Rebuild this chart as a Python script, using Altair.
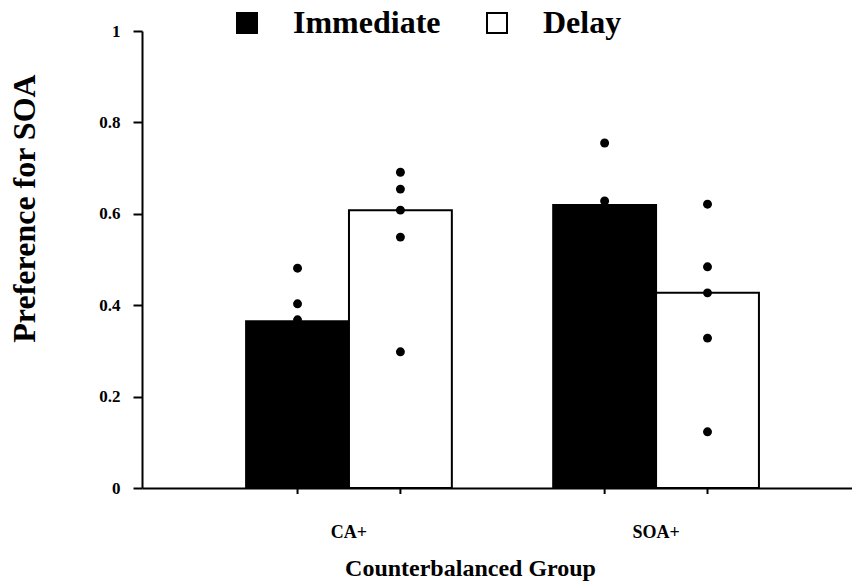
import altair as alt
import pandas as pd

groups = ["CA+", "SOA+"]
conditions = ["Immediate", "Delay"]

# bar heights (group-major order: CA+ Immediate, CA+ Delay, SOA+ Immediate, SOA+ Delay)
bar_group = ["CA+", "CA+", "SOA+", "SOA+"]
bar_cond = ["Immediate", "Delay", "Immediate", "Delay"]
bar_value = [0.365, 0.608, 0.619, 0.427]

# individual subject points
pt_group = ["CA+"] * 3 + ["CA+"] * 5 + ["SOA+"] * 2 + ["SOA+"] * 5
pt_cond = ["Immediate"] * 3 + ["Delay"] * 5 + ["Immediate"] * 2 + ["Delay"] * 5
pt_value = [0.481, 0.403, 0.368,
            0.691, 0.654, 0.608, 0.549, 0.298,
            0.755, 0.628,
            0.621, 0.484, 0.427, 0.328, 0.123]

y_ticks = [0, 0.2, 0.4, 0.6, 0.8, 1.0]

bars_df = pd.DataFrame({"group": bar_group, "condition": bar_cond, "value": bar_value})
pts_df = pd.DataFrame({"group": pt_group, "condition": pt_cond, "value": pt_value})

FONT = "Liberation Serif"

x_enc = alt.X(
    "group:N",
    sort=groups,
    scale=alt.Scale(paddingInner=0.33, paddingOuter=0.321, align=0.528),
    axis=alt.Axis(
        title="Counterbalanced Group",
        labelAngle=0,
        ticks=False,
        labelPadding=35,
        labelFontSize=18,
        labelFont=FONT,
        labelFontWeight="bold",
        labelColor="black",
        titleFont=FONT,
        titleFontSize=24,
        titleFontWeight="bold",
        titleColor="black",
        titlePadding=15,
        titleX=328,
        titleAlign="center",
        domainColor="black",
        domainWidth=2,
        grid=False,
    ),
)
xoff_enc = alt.XOffset("condition:N", sort=conditions,
                       scale=alt.Scale(paddingInner=0, paddingOuter=0))
y_scale = alt.Scale(domain=[0, 1], nice=False)

bars = alt.Chart(bars_df).mark_bar(stroke="black", strokeWidth=2).encode(
    x=x_enc,
    xOffset=xoff_enc,
    y=alt.Y(
        "value:Q",
        scale=y_scale,
        axis=alt.Axis(
            title="Preference for SOA",
            values=y_ticks,
            format=".1~f",
            grid=False,
            tickSize=9,
            tickWidth=2,
            tickColor="black",
            domainColor="black",
            domainWidth=2,
            labelPadding=13,
            labelFontSize=17,
            labelFont=FONT,
            labelFontWeight="bold",
            labelColor="black",
            titleFont=FONT,
            titleFontSize=32,
            titleFontWeight="bold",
            titleColor="black",
            titleX=-118,
            titleY=177,
            titleAlign="center",
            titleBaseline="middle",
        ),
    ),
    fill=alt.Fill(
        "condition:N",
        sort=conditions,
        scale=alt.Scale(domain=conditions, range=["black", "white"]),
        legend=alt.Legend(
            title=None,
            orient="none",
            direction="horizontal",
            legendX=89,
            legendY=-24,
            padding=0,
            symbolType="square",
            symbolSize=400,
            symbolStrokeColor="black",
            symbolStrokeWidth=2,
            labelFont=FONT,
            labelFontSize=32,
            labelFontWeight="bold",
            labelColor="black",
            labelOffset=30,
            columnPadding=40,
        ),
    ),
)

ticks = alt.Chart(bars_df).mark_rule(color="black", strokeWidth=2).encode(
    x=alt.X("group:N", sort=groups),
    xOffset=alt.XOffset("condition:N", sort=conditions),
    y=alt.value(457),
    y2=alt.value(463),
)

points = alt.Chart(pts_df).mark_circle(color="black", opacity=1, size=80).encode(
    x=alt.X("group:N", sort=groups),
    xOffset=alt.XOffset("condition:N", sort=conditions),
    y=alt.Y("value:Q", scale=y_scale),
)

chart = (
    alt.layer(bars, ticks, points)
    .properties(
        width=710,
        height=457,
        autosize=alt.AutoSizeParams(type="none"),
        padding={"left": 142, "top": 31, "right": 0, "bottom": 93},
        background="white",
    )
    .configure_view(stroke=None)
)

chart.save("out.html", embed_options={"renderer": "svg", "actions": False})
